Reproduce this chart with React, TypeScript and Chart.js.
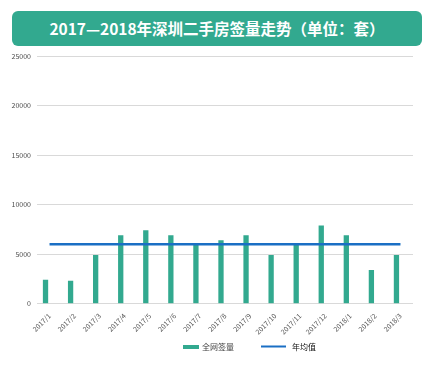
import React, { useEffect, useRef } from "react";
import { Chart, registerables } from "chart.js";

Chart.register(...registerables);

const categories = [
  "2017/1", "2017/2", "2017/3", "2017/4", "2017/5", "2017/6", "2017/7", "2017/8",
  "2017/9", "2017/10", "2017/11", "2017/12", "2018/1", "2018/2", "2018/3",
];
const signedVolume = [2400, 2300, 4900, 6900, 7400, 6900, 6000, 6400, 6900, 4900, 6000, 7900, 6900, 3400, 4900];
const yearAverage = [6000, 6000, 6000, 6000, 6000, 6000, 6000, 6000, 6000, 6000, 6000, 6000, 6000, 6000, 6000];
const spacer: (number | null)[] = [];
const yTicks = [0, 5000, 10000, 15000, 20000, 25000];

const GREEN = "#32a98f";
const BLUE = "#1a6fc4";
const FONT = "'Noto Sans CJK SC', 'Liberation Sans', sans-serif";

// Legend drawn by a small plugin so that its spacing matches the reference
const legendPlugin = {
  id: "customLegend",
  afterDraw(chart: any) {
    const ctx = chart.ctx as CanvasRenderingContext2D;
    const ds = chart.data.datasets;
    const barLabel = ds[1].label as string;
    const lineLabel = ds[0].label as string;
    const y = 347;
    ctx.save();
    ctx.font = `8px ${FONT}`;
    ctx.textBaseline = "middle";
    ctx.textAlign = "left";
    ctx.fillStyle = GREEN;
    ctx.fillRect(183, y - 2, 16, 4);
    ctx.fillStyle = "#404040";
    ctx.fillText(barLabel, 202, y);
    ctx.strokeStyle = BLUE;
    ctx.lineWidth = 2;
    ctx.beginPath();
    ctx.moveTo(261, y - 0.5);
    ctx.lineTo(286, y - 0.5);
    ctx.stroke();
    ctx.fillStyle = "#111111";
    ctx.fillText(lineLabel, 292, y);
    ctx.restore();
  },
};

export default function App() {
  const ref = useRef<HTMLCanvasElement | null>(null);
  useEffect(() => {
    document.body.style.margin = "0";
    const ctx = ref.current!;
    const chart = new Chart(ctx, {
      type: "bar",
      data: {
        labels: categories,
        datasets: [
          {
            type: "line",
            label: "年均值",
            data: yearAverage,
            borderColor: BLUE,
            backgroundColor: BLUE,
            borderWidth: 2.5,
            pointRadius: 0,
            order: 0,
          } as any,
          {
            type: "bar",
            label: "全网签量",
            data: signedVolume,
            backgroundColor: GREEN,
            categoryPercentage: 0.64,
            barPercentage: 0.66,
            order: 1,
          },
          {
            type: "bar",
            label: "",
            data: spacer,
            backgroundColor: "rgba(0,0,0,0)",
            categoryPercentage: 0.64,
            barPercentage: 0.66,
            order: 2,
          },
        ],
      },
      plugins: [legendPlugin],
      options: {
        responsive: false,
        animation: false,
        layout: { padding: { top: 56, left: 8, right: 22, bottom: 29 } },
        plugins: {
          title: { display: false },
          tooltip: { enabled: false },
          legend: { display: false },
        },
        scales: {
          x: {
            grid: { display: false },
            border: { display: false },
            ticks: {
              font: { family: FONT, size: 7 },
              color: "#4d4d4d",
              minRotation: 45,
              maxRotation: 45,
              autoSkip: false,
              padding: 0,
            },
          },
          y: {
            min: 0,
            max: 25000,
            afterFit: (s: any) => {
              s.width = 29;
            },
            afterBuildTicks: (s: any) => {
              s.ticks = yTicks.map((v) => ({ value: v }));
            },
            grid: { color: "#d9d9d9", lineWidth: 1, drawTicks: false },
            border: { display: false },
            ticks: {
              font: { family: FONT, size: 7 },
              color: "#4d4d4d",
              padding: 6,
              callback: (v: any) => String(v),
            },
          },
        },
      },
    });
    return () => chart.destroy();
  }, []);

  return (
    <div style={{ position: "absolute", left: 0, top: 0, width: 435, height: 365, background: "#fff" }}>
      <canvas ref={ref} width={435} height={365} style={{ position: "absolute", left: 0, top: 0 }} />
      <div
        style={{
          position: "absolute",
          left: 12,
          top: 11,
          width: 410,
          height: 35,
          background: GREEN,
          borderRadius: 6,
          color: "#ffffff",
          fontFamily: FONT,
          fontWeight: 700,
          fontSize: 15.5,
          lineHeight: "35px",
          textAlign: "center",
        }}
      >
        2017—2018年深圳二手房签量走势（单位：套）
      </div>
    </div>
  );
}
